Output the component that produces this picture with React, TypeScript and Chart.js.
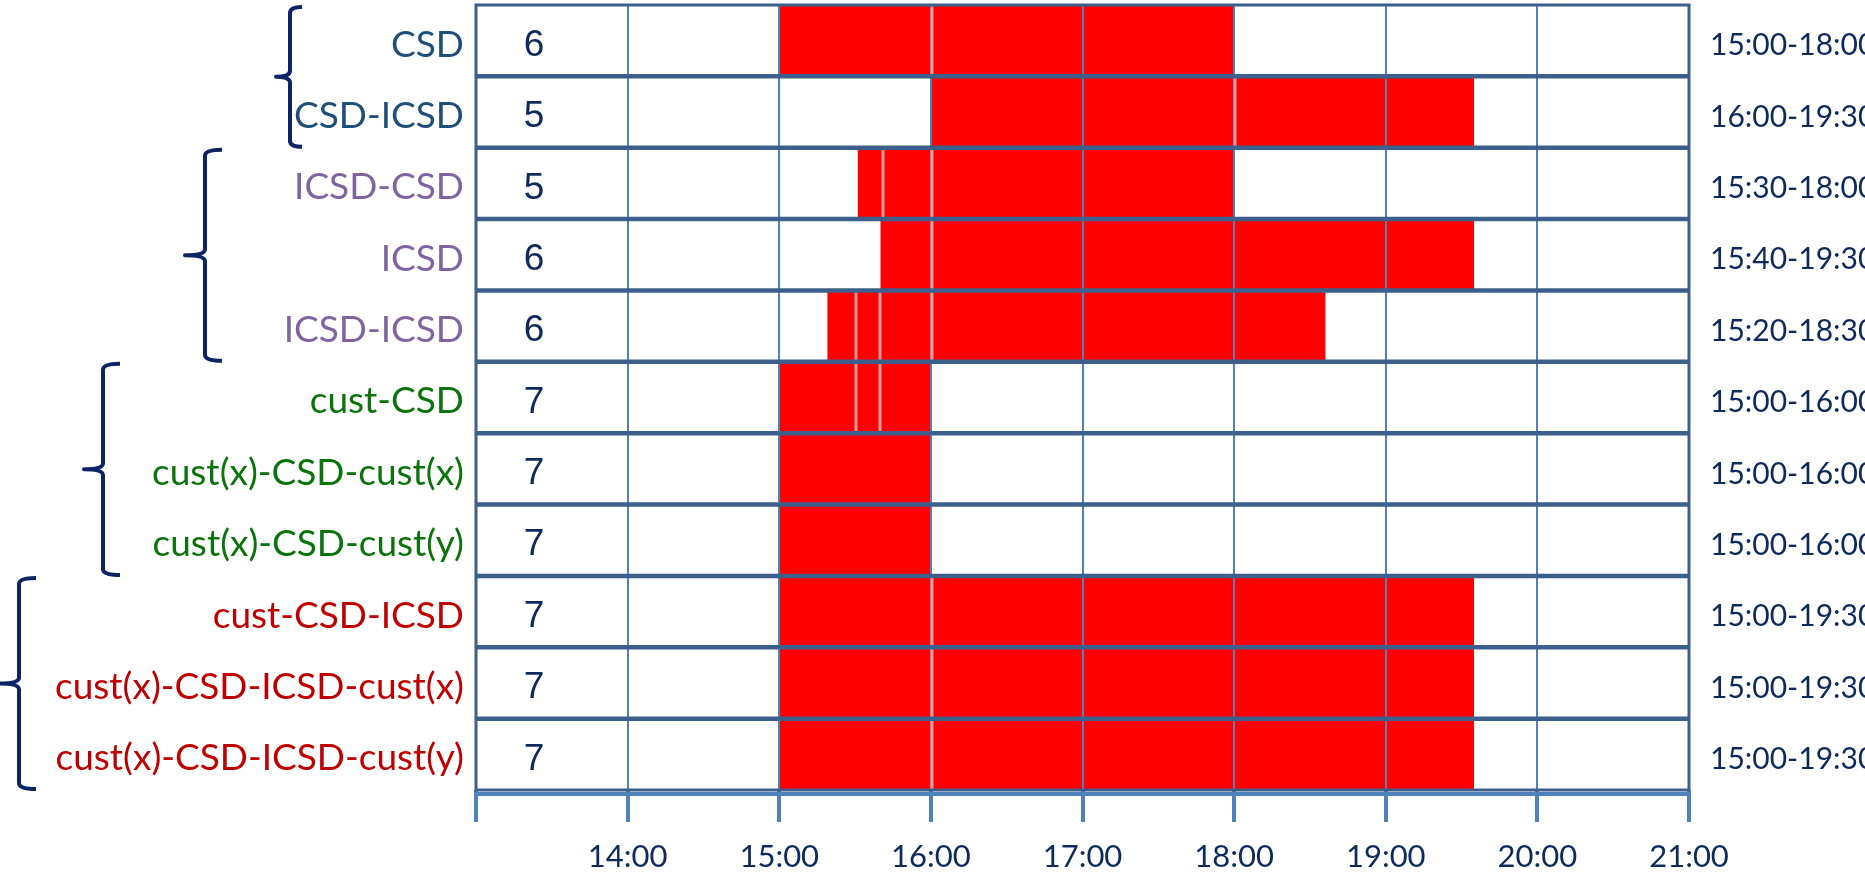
import React, { useEffect, useRef } from 'react';
import { Chart, registerables } from 'chart.js';

Chart.register(...registerables);

// ---- data ----
const rowLabels = [
  'CSD',
  'CSD-ICSD',
  'ICSD-CSD',
  'ICSD',
  'ICSD-ICSD',
  'cust-CSD',
  'cust(x)-CSD-cust(x)',
  'cust(x)-CSD-cust(y)',
  'cust-CSD-ICSD',
  'cust(x)-CSD-ICSD-cust(x)',
  'cust(x)-CSD-ICSD-cust(y)',
];
const labelColors = [
  '#1f4e79', '#1f4e79',
  '#8064a2', '#8064a2', '#8064a2',
  '#0b730b', '#0b730b', '#0b730b',
  '#c00000', '#c00000', '#c00000',
];
const counts = [6, 5, 5, 6, 6, 7, 7, 7, 7, 7, 7];
const startHours = [15, 16, 15.52, 15.67, 15.32, 15, 15, 15, 15, 15, 15];
const endHours = [18, 19.58, 18, 19.58, 18.6, 16, 16, 16, 19.58, 19.58, 19.58];
const seamHours = [
  [16], [18], [15.68, 16], [16], [15.5, 15.66, 16], [15.5, 15.66], [], [], [16], [16], [16],
];
const rangeLabels = [
  '15:00-18:00', '16:00-19:30', '15:30-18:00', '15:40-19:30', '15:20-18:30',
  '15:00-16:00', '15:00-16:00', '15:00-16:00',
  '15:00-19:30', '15:00-19:30', '15:00-19:30',
];
const groups = [[0, 1], [2, 4], [5, 7], [8, 10]];
const hourMin = 13;
const hourMax = 21;
const tickLabels = ['', '14:00', '15:00', '16:00', '17:00', '18:00', '19:00', '20:00', '21:00'];

// ---- style (not data) ----
const W = 1865;
const H = 879;
const NAVY = '#0d2a5c';
const braceX = [
  { v: 290, e: 302, p: 276 },
  { v: 205, e: 222, p: 185 },
  { v: 103, e: 120, p: 84 },
  { v: 19, e: 36, p: 0 },
];

function drawBrace(ctx: CanvasRenderingContext2D, xv: number, xe: number, xp: number, top: number, bottom: number) {
  const mid = (top + bottom) / 2;
  const r = 6;
  ctx.beginPath();
  ctx.moveTo(xe, top);
  ctx.quadraticCurveTo(xv, top, xv, top + r);
  ctx.lineTo(xv, mid - r);
  ctx.quadraticCurveTo(xv, mid, xp, mid);
  ctx.quadraticCurveTo(xv, mid, xv, mid + r);
  ctx.lineTo(xv, bottom - r);
  ctx.quadraticCurveTo(xv, bottom, xe, bottom);
  ctx.stroke();
}

const overlayPlugin = {
  id: 'overlay',
  afterDatasetsDraw(chart: any) {
    const { ctx, chartArea: ca, scales } = chart;
    const xs = scales.x;
    const ys = scales.y;
    const n = rowLabels.length;
    const step = (ca.bottom - ca.top) / n;
    ctx.save();

    // vertical grid lines over the bars
    ctx.strokeStyle = '#4f81bd';
    ctx.lineWidth = 2;
    for (let h = hourMin + 1; h < hourMax; h++) {
      const px = Math.round(xs.getPixelForValue(h));
      ctx.beginPath();
      ctx.moveTo(px, ca.top);
      ctx.lineTo(px, ca.bottom);
      ctx.stroke();
    }

    // seams between bar segments
    ctx.strokeStyle = '#e39a9a';
    ctx.lineWidth = 3;
    seamHours.forEach((arr, i) => {
      const cy = ys.getPixelForValue(i);
      arr.forEach((h) => {
        const px = Math.round(xs.getPixelForValue(h)) + 1;
        ctx.beginPath();
        ctx.moveTo(px, cy - step / 2);
        ctx.lineTo(px, cy + step / 2);
        ctx.stroke();
      });
    });

    // row separators
    ctx.strokeStyle = '#3c5f8c';
    ctx.lineWidth = 4.5;
    for (let i = 1; i < n; i++) {
      const yy = ca.top + i * step;
      ctx.beginPath();
      ctx.moveTo(ca.left, yy);
      ctx.lineTo(ca.right, yy);
      ctx.stroke();
    }

    // outer frame
    ctx.lineWidth = 3;
    ctx.strokeRect(ca.left, ca.top, ca.right - ca.left, ca.bottom - ca.top);

    // axis line under the frame
    ctx.strokeStyle = '#4f81bd';
    ctx.lineWidth = 4;
    ctx.beginPath();
    ctx.moveTo(ca.left - 1, ca.bottom + 4);
    ctx.lineTo(ca.right + 1, ca.bottom + 4);
    ctx.stroke();

    // counts column
    ctx.fillStyle = NAVY;
    ctx.font = '37px "Liberation Sans", Arial, sans-serif';
    ctx.textAlign = 'center';
    ctx.textBaseline = 'middle';
    counts.forEach((c, i) => {
      ctx.fillText(String(c), ca.left + 58, ys.getPixelForValue(i) + 5);
    });

    // range labels on the right
    ctx.font = '30px Lato, sans-serif';
    ctx.textAlign = 'left';
    rangeLabels.forEach((t, i) => {
      ctx.fillText(t, ca.right + 21, ys.getPixelForValue(i) + 5);
    });

    // group braces
    ctx.strokeStyle = '#0c2466';
    ctx.lineWidth = 4;
    ctx.lineJoin = 'round';
    groups.forEach((g, k) => {
      const top = ys.getPixelForValue(g[0]) - step / 2 + 2;
      const bottom = ys.getPixelForValue(g[1]) + step / 2 - 1;
      const b = braceX[k];
      drawBrace(ctx, b.v, b.e, b.p, top, bottom);
    });

    ctx.restore();
  },
};

export default function App() {
  const canvasRef = useRef<HTMLCanvasElement | null>(null);

  useEffect(() => {
    document.body.style.margin = '0';
    document.body.style.overflow = 'hidden';
    const canvas = canvasRef.current;
    if (!canvas) return;
    const chart = new Chart(canvas, {
      type: 'bar',
      data: {
        labels: rowLabels,
        datasets: [
          {
            data: rowLabels.map((_, i) => [startHours[i], endHours[i]]),
            backgroundColor: '#ff0000',
            borderWidth: 0,
            barPercentage: 1,
            categoryPercentage: 1,
          },
        ],
      },
      options: {
        indexAxis: 'y',
        animation: false,
        responsive: false,
        maintainAspectRatio: false,
        layout: { padding: { top: 5, right: 176, left: 0, bottom: 0 } },
        plugins: {
          legend: { display: false },
          tooltip: { enabled: false },
        },
        scales: {
          x: {
            type: 'linear',
            min: hourMin,
            max: hourMax,
            afterFit: (s: any) => {
              s.height = 89;
              s.paddingLeft = 0;
              s.paddingRight = 0;
            },
            ticks: {
              stepSize: 1,
              autoSkip: false,
              maxRotation: 0,
              padding: 16,
              color: NAVY,
              font: { family: 'Lato', size: 31 },
              callback: (_v: any, idx: number) => tickLabels[idx],
            },
            grid: {
              drawOnChartArea: false,
              drawTicks: true,
              tickLength: 32,
              lineWidth: 4,
              color: '#4f81bd',
            },
            border: { display: false },
          },
          y: {
            type: 'category',
            afterFit: (s: any) => {
              s.width = 476;
              s.paddingTop = 0;
              s.paddingBottom = 0;
            },
            ticks: {
              autoSkip: false,
              padding: 12,
              labelOffset: 4,
              color: (c: any) => labelColors[c.index],
              font: { family: 'Lato', size: 37 },
            },
            grid: { display: false, drawTicks: false },
            border: { display: false },
          },
        },
      },
      plugins: [overlayPlugin],
    } as any);
    return () => chart.destroy();
  }, []);

  return (
    <div style={{ width: W, height: H, background: '#ffffff' }}>
      <canvas ref={canvasRef} width={W} height={H} style={{ display: 'block' }} />
    </div>
  );
}
